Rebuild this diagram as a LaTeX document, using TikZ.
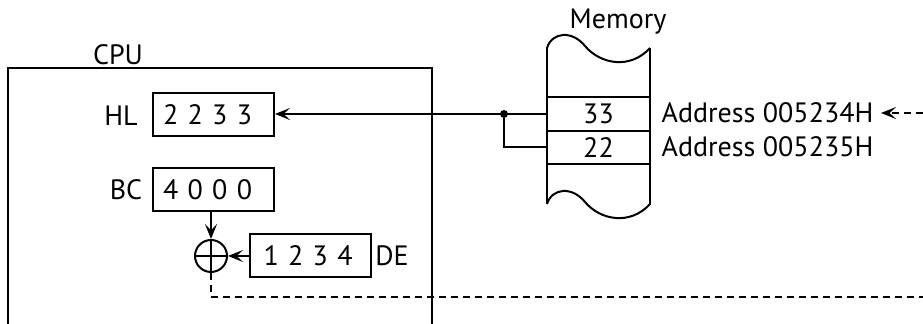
\documentclass[tikz,border=0pt]{standalone}
\usepackage{fontspec}
\setmainfont{PT Sans}
\newfontfamily\regfont[WordSpace=1.55]{PT Sans}
\usetikzlibrary{arrows.meta}

\begin{document}
\begin{tikzpicture}[x=0.5pt, y=-0.5pt, line width=1pt,
    font=\fontsize{14}{16}\selectfont,
    reg/.style={draw, minimum width=60.5pt, minimum height=21.5pt, inner sep=0pt, inner xsep=5pt,
        text width=50.5pt, align=left, font=\regfont\fontsize{14}{16}\selectfont},
    cell/.style={draw, minimum width=51.5pt, minimum height=16.75pt, inner sep=0pt},
    arr/.style={-{Stealth[length=7.5pt, width=6pt, inset=3.2pt]}},
    dsh/.style={dash pattern=on 3.5pt off 2.5pt}
]
\useasboundingbox (0,0) rectangle (923,324);

% CPU side
\draw (8,324) |- (432,68) -- (432,324);
\node (cpu) at (118,55) {CPU};
\node[reg] (hl) at (213.5,115) {2 2 3 3};
\node (hllbl) at (121,116) {HL};
\node[reg] (bc) at (213.5,190) {4 0 0 0};
\node (bclbl) at (126,190) {BC};
\node[circle, draw, minimum size=16pt, inner sep=0pt] (sum) at (211,256) {};
\draw (sum.north) -- (sum.south) (sum.west) -- (sum.east);
\node[reg, text width=47pt, inner xsep=6pt] (de) at (310.5,256) {1 2 3 4};
\node (delbl) at (392,256) {DE};

\draw[arr] (sum.north |- bc.south) -- (sum.north);
\draw[arr] (de.west) -- (sum.east);
\coordinate (cpuout) at (923,297);
\draw[dsh] (sum.south) |- (cpuout);

% memory
\node[cell] (m33) at (598.5,114) {33};
\node[cell] (m22) at (598.5,147.5) {22};
\draw (547,48) -- (547,204) (650,48) -- (650,205);
\draw (547,48) .. controls (552,32) and (572,30) .. (585,46)
      .. controls (600,64) and (630,70) .. (650,48);
\draw (547,204) .. controls (552,188) and (572,186) .. (585,202)
      .. controls (600,220) and (630,226) .. (650,204);
\node (mem) at (618,22) {Memory};
\node[anchor=west] (a34) at (654,113) {Address 005234H};
\node[anchor=west] (a35) at (654,147) {Address 005235H};
\coordinate (addrin) at (923,113);
\draw[dsh, arr] (addrin) -- (a34.east);

% load into HL
\coordinate (jn) at (504,114);
\draw (m33.west) -- (jn);
\draw[arr] (jn) -- (jn -| hl.east);
\draw (jn) |- (m22.west);
\fill (jn) circle[radius=2pt];
\end{tikzpicture}
\end{document}
